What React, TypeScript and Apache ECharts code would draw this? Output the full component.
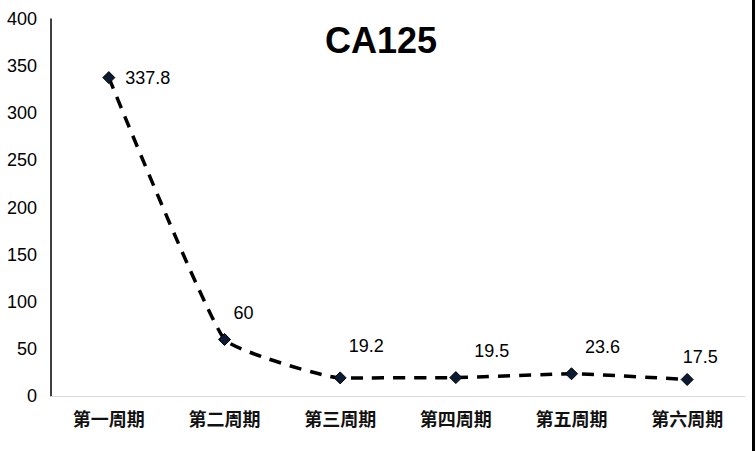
import React, { useEffect, useRef } from "react";
import * as echarts from "echarts";

const categories = ["第一周期", "第二周期", "第三周期", "第四周期", "第五周期", "第六周期"];
const values = [337.8, 60, 19.2, 19.5, 23.6, 17.5];
const labelOffsets: number[][] = [[0, 0], [19, -6], [26, -11], [36, -6], [31, -6], [13, -2]];
const yMin = 0;
const yMax = 400;
const yInterval = 50;

export default function App() {
  const ref = useRef<HTMLDivElement>(null);
  useEffect(() => {
    document.body.style.margin = "0";
    const chart = echarts.init(ref.current!, null, { renderer: "svg" });
    const data = values.map((v, i) =>
      i === 0
        ? { value: v, label: { position: "right", distance: 10 } }
        : { value: v, label: { position: "top", offset: labelOffsets[i] } }
    );
    chart.setOption({
      animation: false,
      backgroundColor: "#ffffff",
      title: {
        text: "CA125",
        left: 376,
        textAlign: "center",
        top: 17,
        textStyle: { fontFamily: "Liberation Sans", fontWeight: "bold", fontSize: 36, color: "#000" },
      },
      grid: { left: 51, right: 11, top: 19, bottom: 55 },
      xAxis: {
        type: "category",
        data: categories,
        boundaryGap: true,
        axisLine: { lineStyle: { color: "#d9d9d9", width: 1 } },
        axisTick: { show: false },
        axisLabel: {
          margin: 13,
          fontSize: 18,
          fontWeight: "bold",
          color: "#111",
          fontFamily: "Noto Sans CJK SC",
        },
      },
      yAxis: {
        type: "value",
        min: yMin,
        max: yMax,
        interval: yInterval,
        splitLine: { show: false },
        axisLine: { show: true, lineStyle: { color: "#000", width: 1.5 } },
        axisTick: { show: false },
        axisLabel: { margin: 14, fontSize: 18, color: "#000", fontFamily: "Liberation Sans" },
      },
      series: [
        {
          type: "line",
          data,
          smooth: 0.12,
          symbol: "diamond",
          symbolSize: 12,
          itemStyle: { color: "#0d1a33", borderColor: "#000", borderWidth: 1 },
          lineStyle: { color: "#000", width: 3.5, type: [12, 9] },
          label: {
            show: true,
            fontSize: 18,
            color: "#000",
            fontFamily: "Liberation Sans",
          },
        },
      ],
      graphic: [
        {
          type: "line",
          shape: { x1: 753.5, y1: 0, x2: 753.5, y2: 451 },
          style: { stroke: "#000", lineWidth: 3 },
        },
      ],
    });
    return () => chart.dispose();
  }, []);
  return <div ref={ref} style={{ width: 756, height: 451, position: "absolute", left: 0, top: 0 }} />;
}
